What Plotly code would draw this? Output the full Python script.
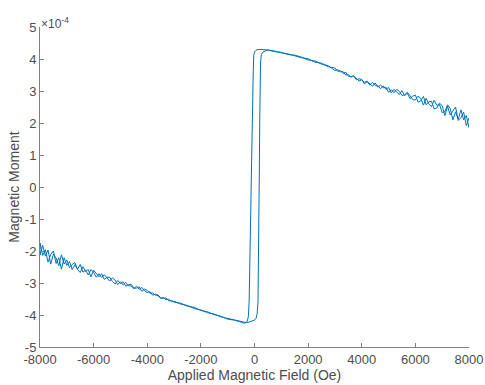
import plotly.graph_objects as go

# ---- data (moment in units of 1e-4) ----
# descending branch: high positive field -> switching -> high negative field
desc_right_field = list(range(8000, 2900, -100)) + [2750, 2500, 2250, 2000, 1750, 1500, 1250, 1000, 750, 500]
desc_right_moment = [
    1.85, 2.23, 2.10, 2.41, 2.12, 2.35, 2.10, 2.45, 2.57, 2.36,
    2.32, 2.58, 2.55, 2.71, 2.51, 2.60, 2.77, 2.56, 2.77, 2.84,
    2.72, 2.73, 2.86, 2.96, 2.88, 2.86, 2.99, 3.05, 2.95, 3.04,
    2.96, 3.12, 3.10, 3.19, 3.12, 3.25, 3.15, 3.22, 3.31, 3.27,
    3.35, 3.31, 3.41, 3.48, 3.43, 3.51, 3.50, 3.61, 3.60, 3.67,
    3.64, 3.79, 3.84, 3.94, 3.97, 4.06, 4.12, 4.14, 4.21, 4.23, 4.28,
]
desc_switch_field = [400, 300, 200, 100, 50, 0, -30, -50, -80, -110, -140, -170, -200, -230, -270, -350, -420]
desc_switch_moment = [4.29, 4.30, 4.30, 4.29, 4.27, 4.22, 4.10, 3.50, 2.00, 0.50, -1.00, -2.50, -3.60, -4.05, -4.20, -4.25, -4.25]
desc_left_field = [-500, -750, -1000, -1250, -1500, -1750, -2000, -2250, -2500, -2750] + list(range(-3000, -8100, -100))
desc_left_moment = [
    -4.22, -4.16, -4.13, -4.04, -3.99, -3.90, -3.86, -3.76, -3.73, -3.63,
    -3.60, -3.54, -3.56, -3.47, -3.48, -3.47, -3.37, -3.38, -3.31, -3.32,
    -3.23, -3.19, -3.26, -3.12, -3.16, -3.16, -3.04, -3.05, -3.10, -2.96,
    -3.02, -2.92, -3.03, -2.95, -2.82, -2.82, -2.89, -2.71, -2.81, -2.71,
    -2.60, -2.81, -2.58, -2.64, -2.49, -2.67, -2.58, -2.36, -2.42, -2.52,
    -2.28, -2.41, -2.12, -2.46, -2.22, -2.10, -2.41, -1.97, -2.16, -1.82, -2.13,
]
# ascending branch: high negative field -> switching -> high positive field
asc_left_field = list(range(-8000, -2900, 100)) + [-2750, -2500, -2250, -2000, -1750, -1500, -1250, -1000, -750, -500]
asc_left_moment = [
    -1.75, -2.14, -1.96, -2.35, -2.11, -2.00, -2.39, -2.21, -2.57, -2.21,
    -2.45, -2.33, -2.58, -2.43, -2.57, -2.42, -2.66, -2.60, -2.75, -2.58,
    -2.67, -2.82, -2.71, -2.83, -2.74, -2.86, -2.94, -2.84, -2.91, -3.05,
    -2.96, -3.06, -2.98, -3.09, -3.09, -3.18, -3.10, -3.20, -3.14, -3.24,
    -3.30, -3.27, -3.38, -3.35, -3.40, -3.48, -3.45, -3.52, -3.50, -3.59,
    -3.57, -3.66, -3.70, -3.80, -3.84, -3.93, -3.97, -4.06, -4.11, -4.17, -4.22,
]
asc_switch_field = [-400, -300, -200, -100, 0, 60, 100, 130, 150, 165, 180, 195, 210, 225, 260, 320, 400]
asc_switch_moment = [-4.24, -4.24, -4.22, -4.20, -4.16, -4.10, -3.95, -3.60, -2.50, -1.00, 0.50, 2.00, 3.30, 3.90, 4.15, 4.22, 4.25]
asc_right_field = [500, 750, 1000, 1250, 1500, 1750, 2000, 2250, 2500, 2750] + list(range(3000, 8100, 100))
asc_right_moment = [
    4.28, 4.25, 4.19, 4.16, 4.09, 4.04, 4.01, 3.90, 3.87, 3.76,
    3.72, 3.61, 3.64, 3.55, 3.59, 3.46, 3.45, 3.47, 3.35, 3.38,
    3.36, 3.22, 3.29, 3.19, 3.27, 3.17, 3.17, 3.07, 3.16, 3.05,
    3.11, 2.94, 3.05, 2.98, 2.89, 3.01, 2.86, 2.93, 2.76, 2.84,
    2.87, 2.65, 2.69, 2.83, 2.57, 2.66, 2.68, 2.44, 2.47, 2.62,
    2.54, 2.23, 2.52, 2.25, 2.36, 2.50, 2.08, 2.17, 2.34, 1.92, 2.16,
]

x_ticks = [-8000, -6000, -4000, -2000, 0, 2000, 4000, 6000, 8000]
y_ticks = [-5, -4, -3, -2, -1, 0, 1, 2, 3, 4, 5]

field = (desc_right_field + desc_switch_field + desc_left_field
         + asc_left_field + asc_switch_field + asc_right_field)
moment = (desc_right_moment + desc_switch_moment + desc_left_moment
          + asc_left_moment + asc_switch_moment + asc_right_moment)

fig = go.Figure()
fig.add_trace(go.Scatter(x=field, y=moment, mode="lines",
                         line=dict(color="#0072BD", width=1), showlegend=False))

FAM = "Liberation Sans, Arial, sans-serif"
TXT = "#4d4d4d"
tick_font = dict(family=FAM, size=13, color=TXT)
title_font = dict(family=FAM, size=14, color=TXT)
fig.update_layout(
    width=485, height=385,
    margin=dict(l=40, r=16, t=27, b=38),
    paper_bgcolor="white", plot_bgcolor="white",
    font=tick_font,
    xaxis=dict(range=[-8000, 8000], tickvals=x_ticks, ticktext=[str(v) for v in x_ticks],
               showline=True, linecolor="#808080", linewidth=1, mirror=False,
               ticks="inside", ticklen=4, tickcolor="#808080",
               showgrid=False, zeroline=False, tickfont=tick_font, automargin=False,
               title=dict(text="Applied Magnetic Field (Oe)", font=title_font, standoff=0)),
    yaxis=dict(range=[-5, 5], tickvals=y_ticks, ticktext=[str(v) for v in y_ticks],
               showline=True, linecolor="#808080", linewidth=1, mirror=False,
               ticks="inside", ticklen=4, tickcolor="#808080",
               showgrid=False, zeroline=False, tickfont=tick_font, automargin=False,
               title=dict(text="Magnetic Moment", font=title_font, standoff=1)),
    annotations=[dict(text="×10<sup>-4</sup>", x=0, y=1, xref="paper", yref="paper",
                      xanchor="left", yanchor="bottom", showarrow=False,
                      font=dict(family=FAM, size=12, color=TXT), xshift=-1, yshift=-6)],
)

fig.write_html("out.html", config={"displayModeBar": False},
               post_script="document.body.style.margin='0px';document.body.style.overflow='hidden';")
